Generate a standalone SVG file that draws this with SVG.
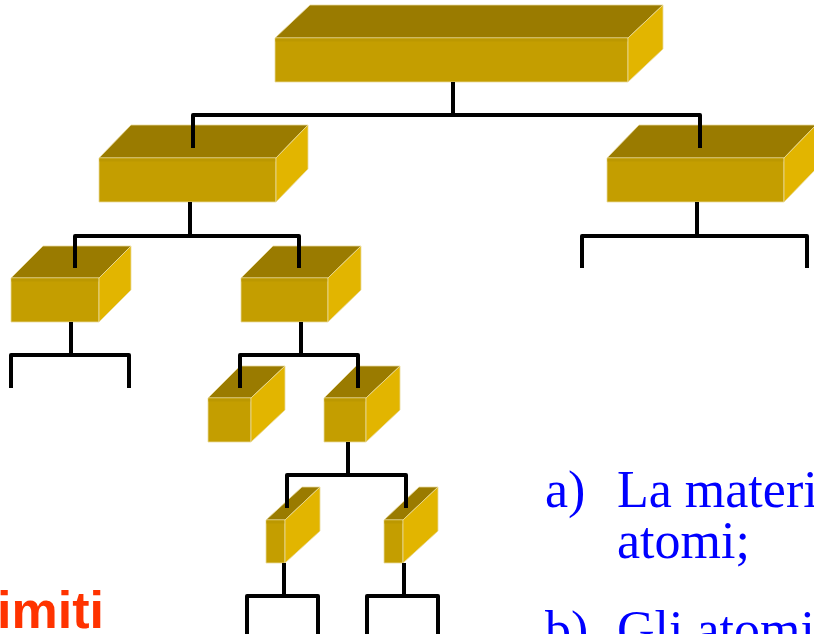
<svg xmlns="http://www.w3.org/2000/svg" width="814" height="634" viewBox="0 0 814 634">
<style>
.top{fill:#9A7B00;stroke:#EADB9C;stroke-width:0.8}
.front{fill:#C49E00;stroke:#EADB9C;stroke-width:0.8}
.side{fill:#E2B500;stroke:#EADB9C;stroke-width:0.8}
.band{fill:#BC9800}
.conn{fill:none;stroke:#000;stroke-width:4;stroke-linejoin:round}
.blue{font-family:"Liberation Serif","Times New Roman",serif;font-size:52px;fill:#0000FF}
.red{font-family:"Liberation Sans",Arial,sans-serif;font-size:52px;font-weight:bold;fill:#FF3300}
</style>
<rect width="814" height="634" fill="#FFFFFF"/>
<g id="box0">
<polygon class="top" points="275,38 310,5 663,5 628,38"/>
<polygon class="front" points="275,38 628,38 628,82 275,82"/>
<rect class="band" x="275.5" y="38.5" width="352" height="3"/>
<polygon class="side" points="628,38 663,5 663,49 628,82"/>
</g>
<g id="box1">
<polygon class="top" points="99,158 131,125 308,125 276,158"/>
<polygon class="front" points="99,158 276,158 276,202 99,202"/>
<rect class="band" x="99.5" y="158.5" width="176" height="3"/>
<polygon class="side" points="276,158 308,125 308,169 276,202"/>
</g>
<g id="box2">
<polygon class="top" points="607,158 639,125 816,125 784,158"/>
<polygon class="front" points="607,158 784,158 784,202 607,202"/>
<rect class="band" x="607.5" y="158.5" width="176" height="3"/>
<polygon class="side" points="784,158 816,125 816,169 784,202"/>
</g>
<g id="box3">
<polygon class="top" points="11,278 43,246 131,246 99,278"/>
<polygon class="front" points="11,278 99,278 99,322 11,322"/>
<rect class="band" x="11.5" y="278.5" width="87" height="3"/>
<polygon class="side" points="99,278 131,246 131,290 99,322"/>
</g>
<g id="box4">
<polygon class="top" points="241,278 273,246 361,246 328,278"/>
<polygon class="front" points="241,278 328,278 328,322 241,322"/>
<rect class="band" x="241.5" y="278.5" width="86" height="3"/>
<polygon class="side" points="328,278 361,246 361,290 328,322"/>
</g>
<g id="box5">
<polygon class="top" points="208,398 240,366 285,366 251,398"/>
<polygon class="front" points="208,398 251,398 251,442 208,442"/>
<rect class="band" x="208.5" y="398.5" width="42" height="3"/>
<polygon class="side" points="251,398 285,366 285,410 251,442"/>
</g>
<g id="box6">
<polygon class="top" points="324,398 356,366 400,366 366,398"/>
<polygon class="front" points="324,398 366,398 366,442 324,442"/>
<rect class="band" x="324.5" y="398.5" width="41" height="3"/>
<polygon class="side" points="366,398 400,366 400,410 366,442"/>
</g>
<g id="box7">
<polygon class="top" points="266,520 302,487 320,487 285,520"/>
<polygon class="front" points="266,520 285,520 285,563 266,563"/>
<rect class="band" x="266.5" y="520.5" width="18" height="3"/>
<polygon class="side" points="285,520 320,487 320,531 285,563"/>
</g>
<g id="box8">
<polygon class="top" points="384,520 419,487 438,487 403,520"/>
<polygon class="front" points="384,520 403,520 403,563 384,563"/>
<rect class="band" x="384.5" y="520.5" width="18" height="3"/>
<polygon class="side" points="403,520 438,487 438,531 403,563"/>
</g>
<g id="connectors">
<path class="conn" d="M453,82 V115 M193,148 V115 H700 V148"/>
<path class="conn" d="M190,202 V236 M75,268 V236 H299 V268"/>
<path class="conn" d="M697,202 V236 M582,268 V236 H807 V268"/>
<path class="conn" d="M71,322 V355 M11,388 V355 H129 V388"/>
<path class="conn" d="M301,322 V355 M240,388 V355 H358 V388"/>
<path class="conn" d="M348,442 V475 M287,508 V475 H406 V508"/>
<path class="conn" d="M284,563 V596 M247,636 V596 H318 V636"/>
<path class="conn" d="M404,563 V596 M367,636 V596 H438 V636"/>
</g>
<g id="texts">
<text class="red" x="-3" y="628">imiti</text>
<text class="blue" x="545" y="507">a)</text>
<text class="blue" x="617" y="507">La materi</text>
<text class="blue" x="617" y="558">atomi;</text>
<text class="blue" x="545" y="647">b)</text>
<text class="blue" x="617" y="647">Gli atomi</text>
</g>
</svg>
